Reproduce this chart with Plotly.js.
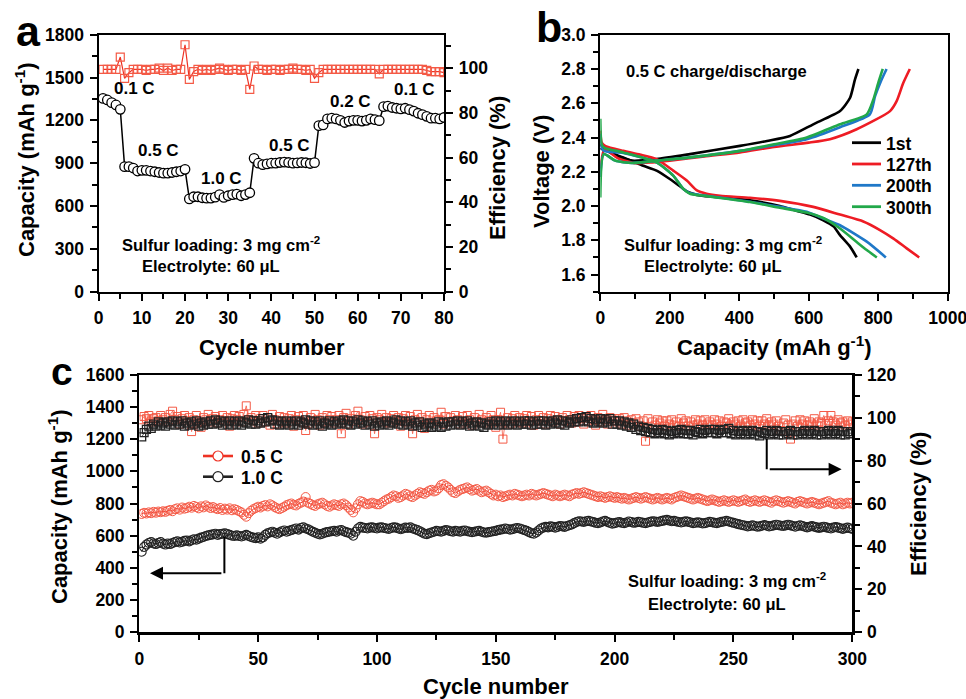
<!DOCTYPE html>
<html><head><meta charset="utf-8">
<script src="https://cdn.plot.ly/plotly-3.0.1.min.js"></script>
<style>html,body{margin:0;padding:0;background:#fff}#chart{width:966px;height:699px}</style>
</head><body><div id="chart"></div>
<script>
// ---------- Panel a: rate capability ----------
const capA = [1354,1343,1324,1308,1277,876,876,866,845,850,850,845,840,835,830,830,835,840,845,857,
650,665,665,658,655,655,662,680,660,672,680,683,672,680,693,934,900,890,895,900,
900,905,908,905,900,902,905,903,898,904,1163,1168,1210,1215,1210,1200,1185,1195,1200,1200,
1195,1200,1210,1205,1198,1296,1300,1290,1285,1280,1285,1275,1265,1250,1240,1228,1215,1215,1210,1220];
const effA = [99.5,99.5,99.5,99.5,105,95.5,98,99.5,99.5,99.5,99,99.5,99.5,100,99,100,99,99.5,99.5,110.5,
95,98.5,99.5,99,99.5,99,99.5,100,99.5,99,99.5,99.5,99,99.5,90.5,101,99.5,99.5,99,99.5,
99.5,99,99.5,99.5,100,99.5,99.5,99,99.5,95.5,98,99.5,99.5,99.5,99.5,99.5,99.5,99.5,99.5,99.5,
99.5,99.5,99.5,99.5,97.5,99.5,99.5,99.5,99.5,99.5,99.5,99.5,99.5,99.5,99.5,99,98.5,98.5,98.5,98];
const rateLabels = ["0.1 C","0.5 C","1.0 C","0.5 C","0.2 C","0.1 C"];

// ---------- Panel b: charge/discharge profiles ----------
const profileNames = ["1st","127th","200th","300th"];
const disCap = [
 [0,9,30,66,100,124,162,200,229,249,287,350,431,517,560,604,642,672,690,719,738],
 [0,4,15,66,114,162,210,249,278,306,345,431,517,613,690,757,805,844,882,918],
 [0,4,12,66,162,210,239,258,306,431,517,594,642,690,767,822],
 [0,4,12,66,162,210,239,258,306,431,517,594,642,690,738,767,796]];
const disV = [
 [2.36,2.342,2.31,2.284,2.255,2.235,2.207,2.158,2.116,2.085,2.062,2.05,2.033,2.0,1.975,1.95,1.917,1.88,1.83,1.763,1.70],
 [2.44,2.37,2.35,2.322,2.30,2.274,2.207,2.149,2.091,2.072,2.06,2.048,2.03,1.995,1.95,1.91,1.86,1.81,1.753,1.70],
 [2.42,2.34,2.32,2.31,2.255,2.178,2.10,2.075,2.06,2.025,1.995,1.966,1.927,1.888,1.792,1.70],
 [2.51,2.36,2.34,2.313,2.255,2.178,2.10,2.072,2.058,2.023,1.99,1.962,1.93,1.869,1.79,1.743,1.70]];
const chgCap = [
 [0,10,40,91,162,258,402,480,546,613,690,719,733,743],
 [0,12,50,100,150,200,300,402,500,600,661,738,834,853,872,891],
 [0,10,43,91,162,258,402,500,594,690,776,791,808,824],
 [0,10,43,91,162,258,402,500,594,690,767,786,800,813]];
const chgV = [
 [2.33,2.34,2.30,2.265,2.274,2.303,2.351,2.38,2.409,2.477,2.554,2.632,2.738,2.80],
 [2.22,2.33,2.28,2.25,2.255,2.265,2.29,2.313,2.345,2.37,2.39,2.448,2.554,2.612,2.718,2.80],
 [2.17,2.303,2.265,2.251,2.265,2.284,2.322,2.355,2.39,2.46,2.535,2.641,2.73,2.80],
 [2.05,2.303,2.265,2.251,2.265,2.284,2.322,2.36,2.40,2.477,2.535,2.622,2.718,2.80]];
const profileColors = ["#000000","#ee1c24","#1f78c8","#22a84a"];

// ---------- Panel c: long cycling ----------
const capC05 = [735,742,738,745,740,748,743,750,746,752,
748,755,760,752,765,770,762,775,768,772,
780,774,785,778,770,782,776,788,780,772,
778,770,765,772,760,768,762,770,758,765,
760,752,745,730,718,740,755,765,772,780,
775,785,790,782,795,788,778,770,765,772,
780,790,795,800,792,788,798,805,812,840,
805,798,790,785,795,800,805,795,785,780,
788,795,790,785,795,800,790,775,760,745,
770,795,815,810,800,795,800,805,800,795,
795,805,815,825,830,840,850,845,835,840,
850,860,855,845,840,850,860,870,865,860,
870,880,885,875,880,895,915,920,910,900,
885,870,865,875,885,890,895,900,890,880,
885,890,880,870,875,880,870,860,850,855,
845,850,840,845,850,855,850,860,855,850,
845,850,855,850,860,855,850,855,860,865,
860,855,850,845,855,850,845,850,855,850,
845,855,860,865,860,865,870,865,860,855,
850,845,840,845,840,835,840,845,840,835,
840,835,830,835,830,825,830,835,840,835,
830,835,840,835,830,825,830,835,830,825,
830,835,830,825,835,840,845,850,845,840,
835,830,825,830,835,830,825,820,815,820,
825,820,815,810,815,820,815,810,815,820,
815,810,815,820,825,815,810,815,820,815,
810,815,820,815,810,805,815,820,815,810,
805,810,815,810,805,800,810,815,810,805,
800,805,810,805,800,795,800,805,810,815,
805,800,795,800,805,795,800,805,800,805];
const capC10 = [500,530,545,555,560,552,548,555,560,550,
545,552,548,555,560,565,558,562,568,570,
565,572,578,575,582,588,592,598,602,605,
608,612,605,610,612,615,610,605,600,598,
602,598,595,600,605,598,592,588,585,590,
582,590,605,615,620,625,618,612,620,628,
632,625,630,635,640,645,638,648,652,645,
640,632,625,618,612,608,612,618,622,625,
628,630,625,632,635,628,622,618,612,600,
625,645,655,650,648,645,650,652,648,645,
650,652,648,645,642,648,652,650,645,640,
645,650,648,652,645,640,635,628,620,612,
610,615,620,625,630,628,625,630,635,632,
628,625,630,628,625,630,632,628,625,622,
625,628,630,625,620,618,622,625,628,630,
635,638,640,645,642,638,640,645,648,645,
640,635,630,622,615,612,620,632,645,650,
655,652,658,655,650,655,660,658,655,660,
665,670,678,685,690,688,685,690,692,688,
685,680,678,682,688,692,685,680,675,678,
682,685,680,678,682,688,685,680,682,686,
684,680,678,682,686,690,688,685,688,692,
695,698,694,690,692,688,685,682,686,690,
686,682,678,680,684,680,676,678,682,686,
684,680,678,682,686,688,692,688,684,680,
676,672,668,665,662,658,660,664,660,656,
658,662,666,662,658,660,664,668,665,662,
660,664,668,664,660,656,660,664,660,656,
652,656,660,656,652,648,652,656,652,648,
645,650,654,650,646,642,646,650,646,642];
const effC05 = [99,100.5,99.5,101,98,99.5,100,98.5,101,99,
100,98,101.5,103,99,100.5,97,99.5,101,98.5,
100,93.5,99,101,98,95.5,100,99,101.5,98,
99.5,100.5,97.5,99,101,98.5,100,96,99.5,101,
99,100.5,98,101.5,105.5,99,100,98.5,101,97.5,
99.5,101,98,100,96.5,101.5,99,97,100.5,98.5,
100,97.5,99.5,101,96,99,100.5,98,101,94,
97,100,98.5,101.5,99,96.5,100,98,101,99,
100.5,97.5,99,101,92.5,100,102,97,99.5,98.5,
101,103,99,97,100.5,98,101,99.5,92.5,100,
99,101.5,98,100,97.5,99.5,101,98.5,100,96,
99.5,101,98,100.5,92.5,99,101.5,98,100,95,
99,101,97.5,100,98.5,99,102.5,97,100.5,98,
100,98.5,101,99,97,100.5,98,101,99,96.5,
100,98,101.5,99,97.5,100,98.5,101,99,95.5,
99,102.5,90,98,100,97,99.5,101,98,100,
97.5,99.5,101,98,100.5,96.5,99,101,98.5,100,
97,99.5,101,98,100.5,99,97,100,98.5,101,
99,97.5,100.5,98,101,99.5,97,100,98.5,101,
99,96.5,100,98,101.5,99,97,100,98.5,99.5,
98,99.5,97,100,98.5,96.5,99,97.5,99.5,98,
96,98.5,89,99.5,93,98,96.5,99,97.5,98.5,
96,98.5,97,99,96.5,98,96,99.5,97.5,98.5,
96,98,96.5,99,97,98.5,96.5,99,97,98,
96.5,99,97,98.5,96,98,97.5,99.5,96.5,98,
97,98.5,96,99,97.5,98,96.5,99,97,98.5,
96,98.5,97,99.5,96.5,98,97,98.5,96,94,
97.5,99,96.5,90,97,98.5,96,99,97,98.5,
96.5,98,97,99.5,96.5,98,97.5,101,96.5,98.5,
101,98,96.5,99,97.5,98,96.5,98.5,97,98];
const effC10 = [91,93,94.5,96,95,97,96,98,96.5,97.5,
96,98,97,98.5,96.5,98,97,98.5,96,97.5,
96.5,98,97,98.5,96,97.5,96.5,98,97,98.5,
97,99,97.5,98.5,96.5,98,97,98.5,96.5,98,
97,98.5,96.5,98,97.5,99,97,98.5,97,98.5,
97.5,99.5,98,100,98.5,99,97,98.5,96.5,98,
97,98.5,96.5,98,97,98.5,96.5,98,97.5,99,
97,98.5,96.5,98,97,98.5,96,97.5,97,98.5,
96.5,98,97,98.5,97.5,99,97,98.5,96.5,98,
97,99,97.5,98.5,96.5,98,97,98.5,96,97.5,
96.5,98,97,98.5,96.5,98,97.5,99,97,98.5,
96.5,98,97,98.5,96,97.5,96.5,98,95.5,97,
96,97.5,95.5,97,96,98,95.5,97.5,96,98,
96.5,98,97,98.5,96.5,98,97,98.5,96,97.5,
96.5,98,96,97.5,95.5,97,96.5,98,97,98.5,
96.5,98,97,98.5,96.5,98,97,98.5,96.5,98,
97,98.5,97,98.5,96.5,98,97,98.5,97,98.5,
96.5,98,97,98.5,97.5,99,97,98.5,96.5,98,
97.5,99,98,99.5,98,100,98.5,100.5,98,99.5,
97.5,99,98,99.5,97.5,99,98,99.5,97,98.5,
97,98.5,96.5,98,96,97.5,95.5,97,94.5,96,
94,95.5,93.5,95,93,94.5,92.5,94,93,94.5,
92.5,94,92,93.5,92.5,94,93,94.5,92.5,94,
92.5,94,92,93.5,93,94.5,92.5,94,93,94.5,
93,94.5,92.5,94,93,94.5,93,95,92.5,94,
92,93.5,92.5,94,92,93.5,92.5,94,92,93.5,
91.5,93,92.5,94,92,93.5,92.5,94,92,93.5,
92,93.5,92.5,94,92,93.5,92,93.5,92.5,94,
92,93.5,92.5,94,92,93.5,92,93.5,92.5,94,
92,93.5,92.5,94,92,93.5,92,93.5,92.5,93.5];
const legendC = ["0.5 C","1.0 C"];

// ---------- helpers ----------
const W = 966, H = 699;
const px = v => v / W, py = v => 1 - v / H;
const FONT = "Liberation Sans, Arial, Helvetica, sans-serif";
const tf = (s) => ({family: FONT, size: s, color: "#000", weight: "bold"});
const cycA = capA.map((_, i) => i + 1);
const cycC = capC05.map((_, i) => i + 1);
const RED = "rgb(238,50,36)", REDL = "rgb(244,90,70)";
const TICK = 17.5;

function ax(o) {
  return Object.assign({
    showline: true, linewidth: 2.2, linecolor: "#000", ticks: "outside",
    ticklen: 7, tickwidth: 2, tickcolor: "#000", showgrid: false, zeroline: false,
    tickfont: tf(TICK), ticklabelstandoff: 2, ticklabeloverflow: "allow", fixedrange: true
  }, o);
}
const mn = d => ({dtick: d, ticklen: 5, tickwidth: 2, ticks: "outside", tickcolor: "#000"});

const traces = [];
// panel a
traces.push({x: cycA, y: effA, xaxis: "x", yaxis: "y2", mode: "lines+markers", showlegend: false,
  line: {color: RED, width: 1.2},
  marker: {symbol: "square-open", size: 8, color: REDL, line: {width: 1.2, color: REDL}}});
traces.push({x: cycA, y: capA, xaxis: "x", yaxis: "y", mode: "lines+markers", showlegend: false,
  line: {color: "#000", width: 1.5},
  marker: {symbol: "circle", size: 9.5, color: "#fff", line: {width: 1.3, color: "#000"}}});
// panel b
for (let k = 0; k < 4; k++) {
  traces.push({x: disCap[k].concat([null], chgCap[k]), y: disV[k].concat([null], chgV[k]),
    xaxis: "x2", yaxis: "y3", mode: "lines", name: profileNames[k], showlegend: false,
    line: {color: profileColors[k], width: 2.6, shape: "spline", smoothing: 0.6}, connectgaps: false});
}
// panel c
traces.push({x: cycC, y: effC05, xaxis: "x3", yaxis: "y5", mode: "lines+markers", showlegend: false,
  line: {color: REDL, width: 0.8},
  marker: {symbol: "square-open", size: 8, color: REDL, line: {width: 1, color: REDL}}});
traces.push({x: cycC, y: effC10, xaxis: "x3", yaxis: "y5", mode: "lines+markers", showlegend: false,
  line: {color: "#333", width: 0.8},
  marker: {symbol: "square-open", size: 8, color: "#222", line: {width: 1.3, color: "#222"}}});
traces.push({x: cycC, y: capC05, xaxis: "x3", yaxis: "y4", mode: "lines+markers", name: legendC[0], showlegend: false,
  line: {color: RED, width: 1},
  marker: {symbol: "circle-open", size: 9, color: REDL, line: {width: 1, color: REDL}}});
traces.push({x: cycC, y: capC10, xaxis: "x3", yaxis: "y4", mode: "lines+markers", name: legendC[1], showlegend: false,
  line: {color: "#222", width: 1},
  marker: {symbol: "circle-open", size: 9, color: "#222", line: {width: 1.1, color: "#222"}}});

const dA = [px(98.7), px(444)], yA = [py(291.7), py(34.7)];
const dB = [px(600.3), px(947.7)];
const dC = [px(139.3), px(852.3)], yC = [py(632.3), py(374.7)];

const layout = {
  width: W, height: H, margin: {l: 0, r: 0, t: 0, b: 0},
  paper_bgcolor: "#fff", plot_bgcolor: "#fff", showlegend: false,
  font: {family: FONT, color: "#000"},
  xaxis: ax({domain: dA, range: [0, 80], anchor: "y", mirror: true, dtick: 10, tick0: 0, minor: mn(5)}),
  yaxis: ax({domain: yA, range: [0, 1800], anchor: "x", dtick: 300, tick0: 0, minor: mn(150)}),
  yaxis2: ax({overlaying: "y", side: "right", anchor: "x", range: [0, 115], dtick: 20, tick0: 0, minor: mn(10)}),
  xaxis2: ax({domain: dB, range: [0, 1000], anchor: "y3", mirror: true, dtick: 200, tick0: 0, minor: mn(100)}),
  yaxis3: ax({domain: yA, range: [1.5, 3.0], anchor: "x2", mirror: true, dtick: 0.2, tick0: 1.6, tickformat: ".1f", minor: mn(0.1)}),
  xaxis3: ax({domain: dC, range: [0, 300], anchor: "y4", mirror: true, dtick: 50, tick0: 0, minor: mn(25)}),
  yaxis4: ax({domain: yC, range: [0, 1600], anchor: "x3", dtick: 200, tick0: 0, minor: mn(100)}),
  yaxis5: ax({overlaying: "y4", side: "right", anchor: "x3", range: [0, 120], dtick: 20, tick0: 0, minor: mn(10)}),
  shapes: [
    {type: "line", xref: "x3", yref: "y4", x0: 35.8, x1: 35.8, y0: 595, y1: 366, line: {color: "#000", width: 2}},
    {type: "line", xref: "x3", yref: "y5", x0: 264, x1: 264, y0: 90, y1: 75.9, line: {color: "#000", width: 2}}
  ],
  annotations: []
};

const A = layout.annotations, S = layout.shapes;
function txt(t, x, y, size, extra) {
  A.push(Object.assign({text: t, xref: "paper", yref: "paper", x: px(x), y: py(y),
    xanchor: "center", yanchor: "middle", showarrow: false, font: tf(size)}, extra || {}));
}
// panel letters
txt("a", 28, 31, 43);
txt("b", 549, 27, 43);
txt("c", 62, 371, 39);
// axis titles
txt("Cycle number", 271.5, 347, 22);
txt("Capacity (mAh g<sup>-1</sup>)", 774, 346, 22);
txt("Cycle number", 496, 686, 22);
txt("Capacity (mAh g<sup>-1</sup>)", 25, 160, 22, {textangle: -90});
txt("Efficiency (%)", 498, 168, 22, {textangle: -90});
txt("Voltage (V)", 541, 172, 22, {textangle: -90});
txt("Capacity (mAh g<sup>-1</sup>)", 58, 507, 22, {textangle: -90});
txt("Efficiency (%)", 918, 504, 22, {textangle: -90});
// rate labels
const rateX = [134.5, 158, 221, 289, 350.5, 414], rateY = [88.5, 151, 179, 146, 101, 90];
rateLabels.forEach((t, i) => txt(t, rateX[i], rateY[i], 17));
// notes
txt("Sulfur loading: 3 mg cm<sup>-2</sup>", 221, 244, 16.5);
txt("Electrolyte: 60 μL", 211, 266, 16.5);
txt("0.5 C charge/discharge", 716, 71, 16.5);
txt("Sulfur loading: 3 mg cm<sup>-2</sup>", 723, 244, 16.5);
txt("Electrolyte: 60 μL", 713, 266, 16.5);
txt("Sulfur loading: 3 mg cm<sup>-2</sup>", 727, 580, 16.5);
txt("Electrolyte: 60 μL", 717, 604, 16.5);
// legend panel b (drawn as line keys + labels)
const legBY = [142.7, 164, 185.3, 206.7];
profileNames.forEach((n, k) => {
  S.push({type: "line", xref: "paper", yref: "paper", x0: px(852), x1: px(881), y0: py(legBY[k]), y1: py(legBY[k]),
    line: {color: profileColors[k], width: 2.8}});
  txt(n, 884, legBY[k] + 1, 17.5, {xanchor: "left"});
});
// legend panel c
const legCY = [456, 476.7], legCCol = [RED, "#222"];
legendC.forEach((n, k) => {
  S.push({type: "line", xref: "paper", yref: "paper", x0: px(203), x1: px(233), y0: py(legCY[k]), y1: py(legCY[k]),
    line: {color: legCCol[k], width: 2.6}});
  S.push({type: "circle", xref: "paper", yref: "paper", x0: px(213), x1: px(223), y0: py(legCY[k] - 5), y1: py(legCY[k] + 5),
    fillcolor: "#fff", line: {color: legCCol[k], width: 1.2}});
  txt(n, 239, legCY[k] + 1, 17.5, {xanchor: "left"});
});
// arrows in panel c
A.push({xref: "x3", yref: "y4", axref: "x3", ayref: "y4", x: 4.5, y: 366, ax: 35.8, ay: 366,
  showarrow: true, arrowhead: 2, arrowsize: 1.3, arrowwidth: 2, arrowcolor: "#000", text: " "});
A.push({xref: "x3", yref: "y5", axref: "x3", ayref: "y5", x: 295.5, y: 75.9, ax: 264, ay: 75.9,
  showarrow: true, arrowhead: 2, arrowsize: 1.3, arrowwidth: 2, arrowcolor: "#000", text: " "});

Plotly.newPlot("chart", traces, layout, {staticPlot: true, displayModeBar: false});
</script></body></html>
